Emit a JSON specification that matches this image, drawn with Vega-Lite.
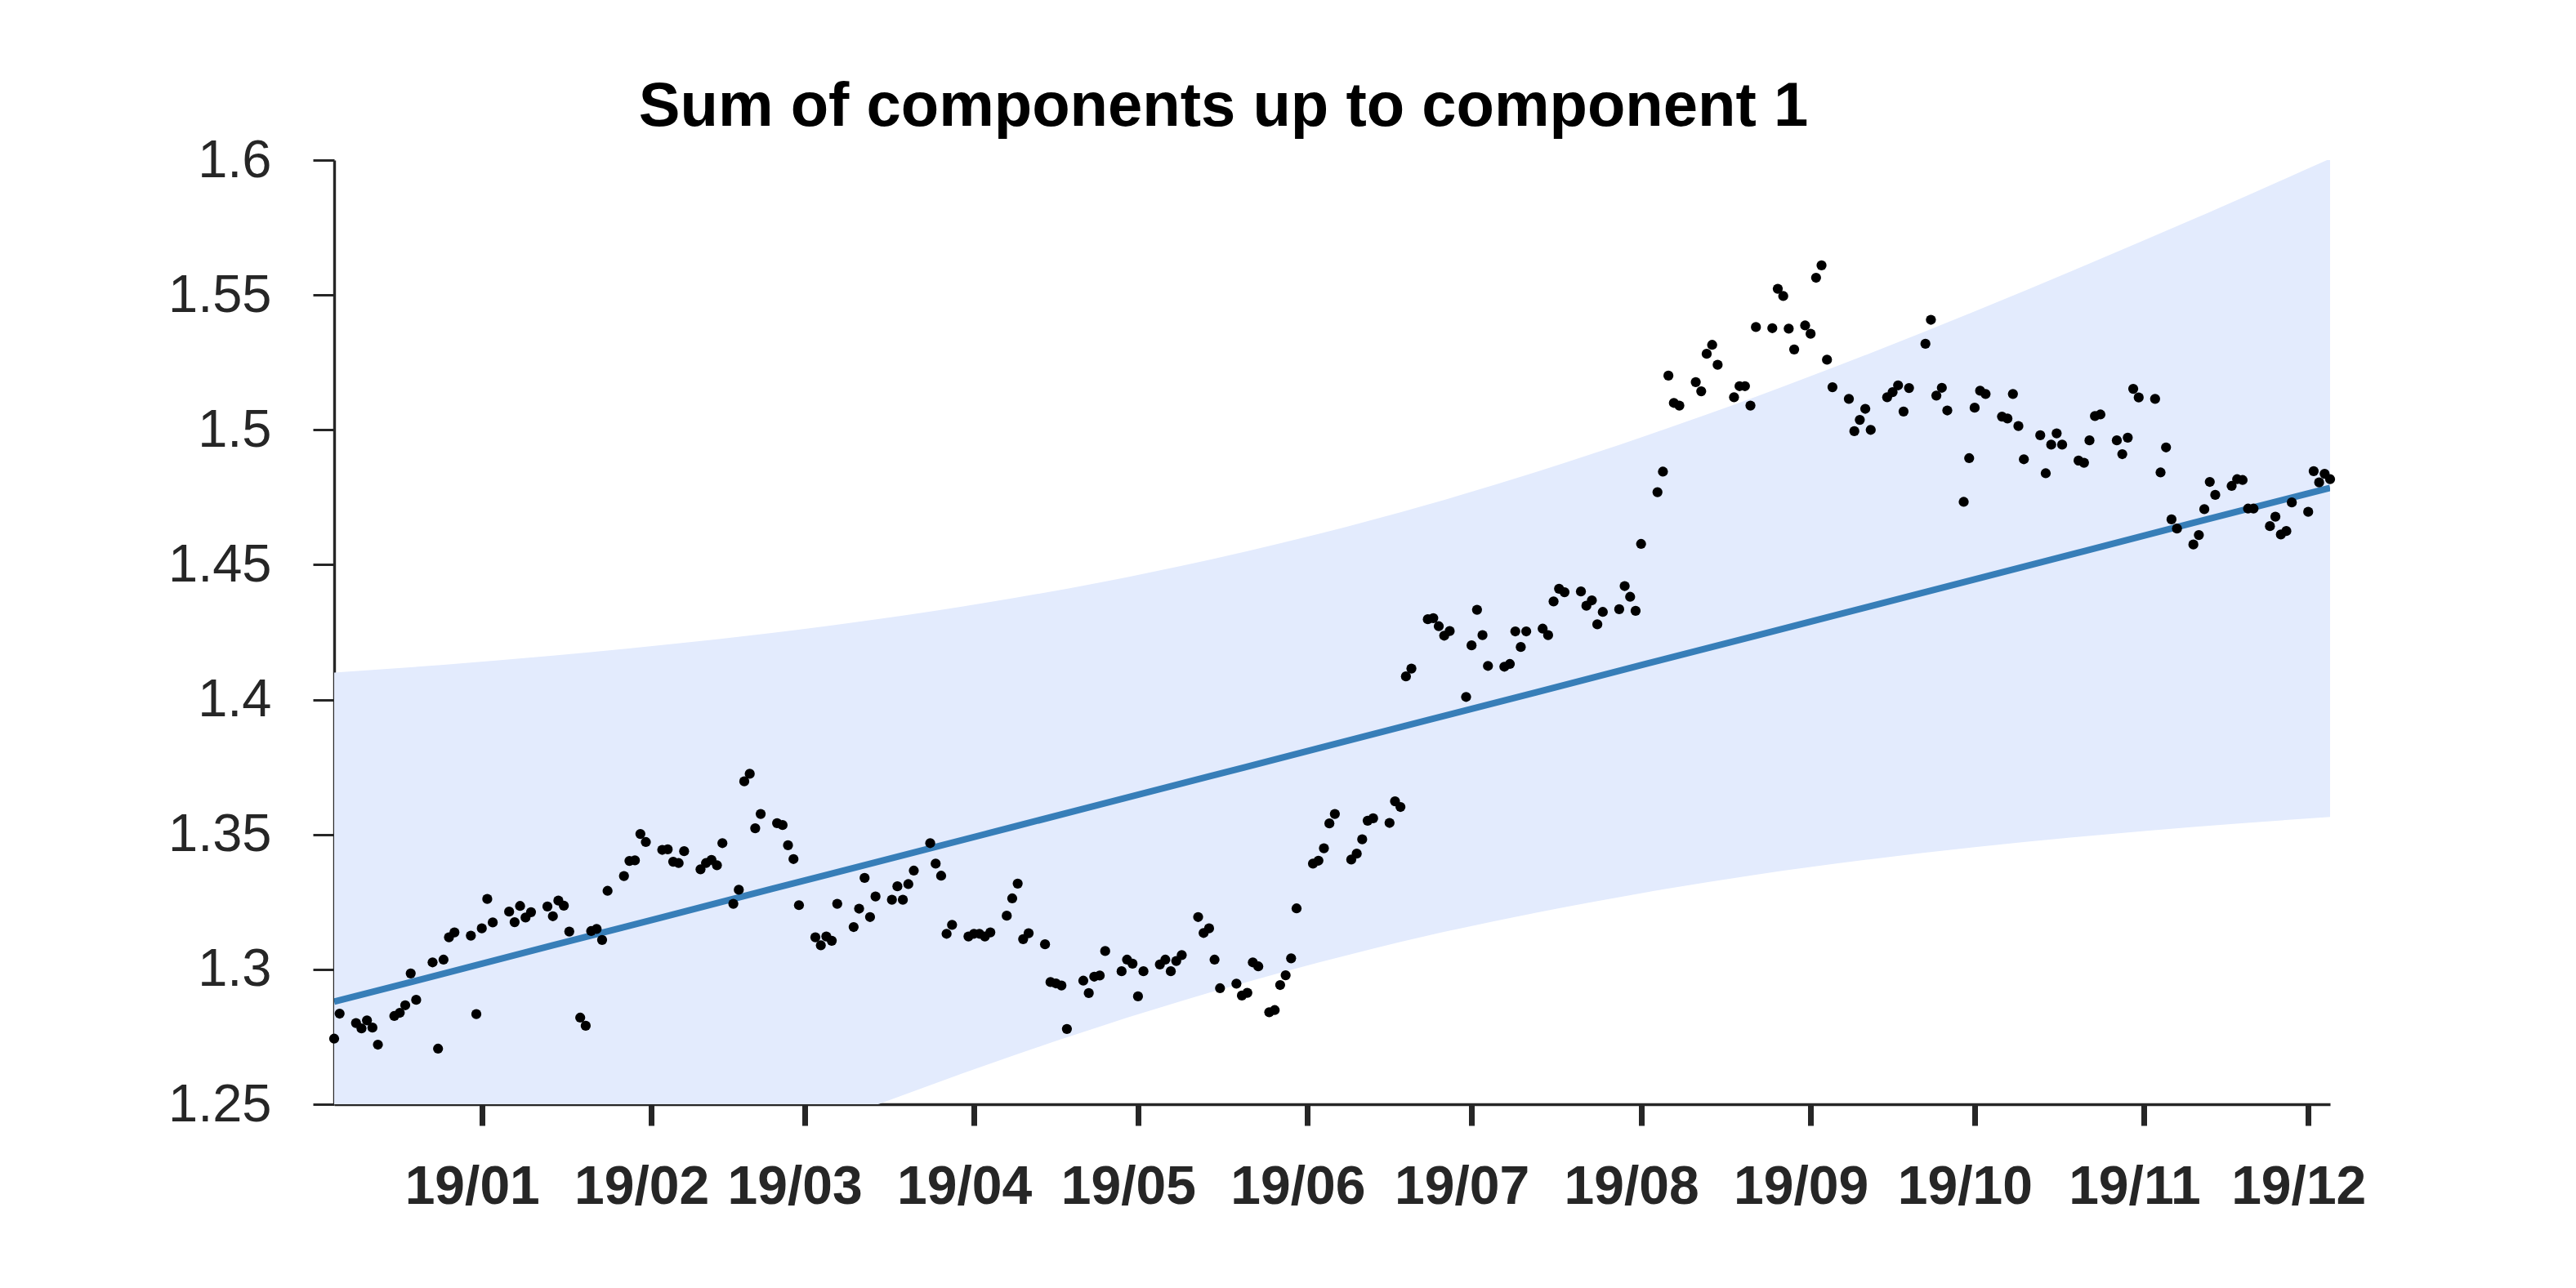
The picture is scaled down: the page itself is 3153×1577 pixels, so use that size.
{
  "$schema": "https://vega.github.io/schema/vega-lite/v6.json",
  "autosize": {"type": "none"},
  "width": 2443,
  "height": 1156,
  "padding": {"left": 409, "top": 196, "right": 301, "bottom": 225},
  "background": "white",
  "config": {"view": {"stroke": null}, "font": "Liberation Sans"},
  "title": {
    "text": "Sum of components up to component 1",
    "font": "Liberation Sans", "fontSize": 76, "fontWeight": "bold", "color": "#000000",
    "anchor": "middle", "frame": "group", "baseline": "alphabetic", "offset": 42, "dx": -133, "dy": 108
  },
  "datasets": {
    "band": [
      {"date": "2018-12-05", "lower": 1.1660, "upper": 1.4100, "fit": 1.2880},
      {"date": "2018-12-25", "lower": 1.1840, "upper": 1.4129, "fit": 1.2984},
      {"date": "2019-01-14", "lower": 1.2015, "upper": 1.4163, "fit": 1.3089},
      {"date": "2019-02-03", "lower": 1.2184, "upper": 1.4202, "fit": 1.3193},
      {"date": "2019-02-23", "lower": 1.2348, "upper": 1.4247, "fit": 1.3298},
      {"date": "2019-03-15", "lower": 1.2504, "upper": 1.4300, "fit": 1.3402},
      {"date": "2019-04-04", "lower": 1.2651, "upper": 1.4362, "fit": 1.3506},
      {"date": "2019-04-24", "lower": 1.2788, "upper": 1.4434, "fit": 1.3611},
      {"date": "2019-05-14", "lower": 1.2913, "upper": 1.4518, "fit": 1.3715},
      {"date": "2019-06-03", "lower": 1.3025, "upper": 1.4614, "fit": 1.3820},
      {"date": "2019-06-23", "lower": 1.3125, "upper": 1.4723, "fit": 1.3924},
      {"date": "2019-07-13", "lower": 1.3211, "upper": 1.4845, "fit": 1.4028},
      {"date": "2019-08-02", "lower": 1.3286, "upper": 1.4979, "fit": 1.4133},
      {"date": "2019-08-22", "lower": 1.3351, "upper": 1.5123, "fit": 1.4237},
      {"date": "2019-09-11", "lower": 1.3406, "upper": 1.5277, "fit": 1.4341},
      {"date": "2019-10-01", "lower": 1.3453, "upper": 1.5439, "fit": 1.4446},
      {"date": "2019-10-21", "lower": 1.3493, "upper": 1.5608, "fit": 1.4550},
      {"date": "2019-11-10", "lower": 1.3528, "upper": 1.5781, "fit": 1.4655},
      {"date": "2019-12-05", "lower": 1.3565, "upper": 1.6005, "fit": 1.4785}
    ],
    "points": [
      {"date": "2018-12-05", "value": 1.2743}, {"date": "2018-12-06", "value": 1.2836},
      {"date": "2018-12-09", "value": 1.2801}, {"date": "2018-12-10", "value": 1.2781},
      {"date": "2018-12-11", "value": 1.2811}, {"date": "2018-12-12", "value": 1.2784},
      {"date": "2018-12-13", "value": 1.2721}, {"date": "2018-12-16", "value": 1.2827},
      {"date": "2018-12-17", "value": 1.2839}, {"date": "2018-12-18", "value": 1.2867},
      {"date": "2018-12-19", "value": 1.2985}, {"date": "2018-12-20", "value": 1.2887},
      {"date": "2018-12-23", "value": 1.3026}, {"date": "2018-12-24", "value": 1.2706},
      {"date": "2018-12-25", "value": 1.3036}, {"date": "2018-12-26", "value": 1.3119},
      {"date": "2018-12-27", "value": 1.3137}, {"date": "2018-12-30", "value": 1.3125},
      {"date": "2018-12-31", "value": 1.2834}, {"date": "2019-01-01", "value": 1.3152},
      {"date": "2019-01-02", "value": 1.3261}, {"date": "2019-01-03", "value": 1.3174},
      {"date": "2019-01-06", "value": 1.3214}, {"date": "2019-01-07", "value": 1.3175},
      {"date": "2019-01-08", "value": 1.3235}, {"date": "2019-01-09", "value": 1.3192},
      {"date": "2019-01-10", "value": 1.3212}, {"date": "2019-01-13", "value": 1.3233},
      {"date": "2019-01-14", "value": 1.3197}, {"date": "2019-01-15", "value": 1.3255},
      {"date": "2019-01-16", "value": 1.3236}, {"date": "2019-01-17", "value": 1.3140},
      {"date": "2019-01-19", "value": 1.2821}, {"date": "2019-01-20", "value": 1.2791},
      {"date": "2019-01-21", "value": 1.3142}, {"date": "2019-01-22", "value": 1.3150},
      {"date": "2019-01-23", "value": 1.3109}, {"date": "2019-01-24", "value": 1.3291},
      {"date": "2019-01-27", "value": 1.3346}, {"date": "2019-01-28", "value": 1.3402},
      {"date": "2019-01-29", "value": 1.3404}, {"date": "2019-01-30", "value": 1.3502},
      {"date": "2019-01-31", "value": 1.3472}, {"date": "2019-02-03", "value": 1.3443},
      {"date": "2019-02-04", "value": 1.3445}, {"date": "2019-02-05", "value": 1.3399},
      {"date": "2019-02-06", "value": 1.3394}, {"date": "2019-02-07", "value": 1.3438},
      {"date": "2019-02-10", "value": 1.3371}, {"date": "2019-02-11", "value": 1.3394},
      {"date": "2019-02-12", "value": 1.3406}, {"date": "2019-02-13", "value": 1.3386},
      {"date": "2019-02-14", "value": 1.3468}, {"date": "2019-02-16", "value": 1.3243},
      {"date": "2019-02-17", "value": 1.3295}, {"date": "2019-02-18", "value": 1.3697},
      {"date": "2019-02-19", "value": 1.3725}, {"date": "2019-02-20", "value": 1.3523},
      {"date": "2019-02-21", "value": 1.3576}, {"date": "2019-02-24", "value": 1.3542},
      {"date": "2019-02-25", "value": 1.3535}, {"date": "2019-02-26", "value": 1.3460},
      {"date": "2019-02-27", "value": 1.3409}, {"date": "2019-02-28", "value": 1.3238},
      {"date": "2019-03-03", "value": 1.3119}, {"date": "2019-03-04", "value": 1.3089},
      {"date": "2019-03-05", "value": 1.3122}, {"date": "2019-03-06", "value": 1.3106},
      {"date": "2019-03-07", "value": 1.3243}, {"date": "2019-03-10", "value": 1.3157},
      {"date": "2019-03-11", "value": 1.3225}, {"date": "2019-03-12", "value": 1.3339},
      {"date": "2019-03-13", "value": 1.3194}, {"date": "2019-03-14", "value": 1.3270},
      {"date": "2019-03-17", "value": 1.3258}, {"date": "2019-03-18", "value": 1.3308},
      {"date": "2019-03-19", "value": 1.3258}, {"date": "2019-03-20", "value": 1.3316},
      {"date": "2019-03-21", "value": 1.3366}, {"date": "2019-03-24", "value": 1.3468},
      {"date": "2019-03-25", "value": 1.3392}, {"date": "2019-03-26", "value": 1.3347},
      {"date": "2019-03-27", "value": 1.3132}, {"date": "2019-03-28", "value": 1.3165},
      {"date": "2019-03-31", "value": 1.3122}, {"date": "2019-04-01", "value": 1.3132},
      {"date": "2019-04-02", "value": 1.3132}, {"date": "2019-04-03", "value": 1.3122},
      {"date": "2019-04-04", "value": 1.3137}, {"date": "2019-04-07", "value": 1.3199},
      {"date": "2019-04-08", "value": 1.3263}, {"date": "2019-04-09", "value": 1.3318},
      {"date": "2019-04-10", "value": 1.3112}, {"date": "2019-04-11", "value": 1.3134},
      {"date": "2019-04-14", "value": 1.3093}, {"date": "2019-04-15", "value": 1.2953},
      {"date": "2019-04-16", "value": 1.2948}, {"date": "2019-04-17", "value": 1.2940},
      {"date": "2019-04-18", "value": 1.2779}, {"date": "2019-04-21", "value": 1.2958},
      {"date": "2019-04-22", "value": 1.2912}, {"date": "2019-04-23", "value": 1.2973},
      {"date": "2019-04-24", "value": 1.2977}, {"date": "2019-04-25", "value": 1.3068},
      {"date": "2019-04-28", "value": 1.2993}, {"date": "2019-04-29", "value": 1.3036},
      {"date": "2019-04-30", "value": 1.3021}, {"date": "2019-05-01", "value": 1.2900},
      {"date": "2019-05-02", "value": 1.2993}, {"date": "2019-05-05", "value": 1.3018},
      {"date": "2019-05-06", "value": 1.3036}, {"date": "2019-05-07", "value": 1.2993},
      {"date": "2019-05-08", "value": 1.3031}, {"date": "2019-05-09", "value": 1.3053},
      {"date": "2019-05-12", "value": 1.3194}, {"date": "2019-05-13", "value": 1.3135},
      {"date": "2019-05-14", "value": 1.3152}, {"date": "2019-05-15", "value": 1.3036},
      {"date": "2019-05-16", "value": 1.2930}, {"date": "2019-05-19", "value": 1.2947},
      {"date": "2019-05-20", "value": 1.2903}, {"date": "2019-05-21", "value": 1.2913},
      {"date": "2019-05-22", "value": 1.3026}, {"date": "2019-05-23", "value": 1.3011},
      {"date": "2019-05-25", "value": 1.2841}, {"date": "2019-05-26", "value": 1.2849},
      {"date": "2019-05-27", "value": 1.2942}, {"date": "2019-05-28", "value": 1.2978},
      {"date": "2019-05-29", "value": 1.3041}, {"date": "2019-05-30", "value": 1.3226},
      {"date": "2019-06-02", "value": 1.3392}, {"date": "2019-06-03", "value": 1.3403},
      {"date": "2019-06-04", "value": 1.3449}, {"date": "2019-06-05", "value": 1.3541},
      {"date": "2019-06-06", "value": 1.3576}, {"date": "2019-06-09", "value": 1.3407},
      {"date": "2019-06-10", "value": 1.3429}, {"date": "2019-06-11", "value": 1.3482},
      {"date": "2019-06-12", "value": 1.3551}, {"date": "2019-06-13", "value": 1.3560},
      {"date": "2019-06-16", "value": 1.3543}, {"date": "2019-06-17", "value": 1.3623},
      {"date": "2019-06-18", "value": 1.3602}, {"date": "2019-06-19", "value": 1.4086},
      {"date": "2019-06-20", "value": 1.4115}, {"date": "2019-06-23", "value": 1.4298},
      {"date": "2019-06-24", "value": 1.4302}, {"date": "2019-06-25", "value": 1.4272},
      {"date": "2019-06-26", "value": 1.4237}, {"date": "2019-06-27", "value": 1.4254},
      {"date": "2019-06-30", "value": 1.4010}, {"date": "2019-07-01", "value": 1.4201},
      {"date": "2019-07-02", "value": 1.4333}, {"date": "2019-07-03", "value": 1.4239},
      {"date": "2019-07-04", "value": 1.4125}, {"date": "2019-07-07", "value": 1.4122},
      {"date": "2019-07-08", "value": 1.4132}, {"date": "2019-07-09", "value": 1.4253},
      {"date": "2019-07-10", "value": 1.4195}, {"date": "2019-07-11", "value": 1.4253},
      {"date": "2019-07-14", "value": 1.4263}, {"date": "2019-07-15", "value": 1.4239},
      {"date": "2019-07-16", "value": 1.4364}, {"date": "2019-07-17", "value": 1.4411},
      {"date": "2019-07-18", "value": 1.4398}, {"date": "2019-07-21", "value": 1.4401},
      {"date": "2019-07-22", "value": 1.4348}, {"date": "2019-07-23", "value": 1.4368},
      {"date": "2019-07-24", "value": 1.4279}, {"date": "2019-07-25", "value": 1.4325},
      {"date": "2019-07-28", "value": 1.4335}, {"date": "2019-07-29", "value": 1.4421},
      {"date": "2019-07-30", "value": 1.4381}, {"date": "2019-07-31", "value": 1.4329},
      {"date": "2019-08-01", "value": 1.4577}, {"date": "2019-08-04", "value": 1.4769},
      {"date": "2019-08-05", "value": 1.4845}, {"date": "2019-08-06", "value": 1.5201},
      {"date": "2019-08-07", "value": 1.5100}, {"date": "2019-08-08", "value": 1.5090},
      {"date": "2019-08-11", "value": 1.5177}, {"date": "2019-08-12", "value": 1.5143},
      {"date": "2019-08-13", "value": 1.5282}, {"date": "2019-08-14", "value": 1.5315},
      {"date": "2019-08-15", "value": 1.5241}, {"date": "2019-08-18", "value": 1.5121},
      {"date": "2019-08-19", "value": 1.5162}, {"date": "2019-08-20", "value": 1.5162},
      {"date": "2019-08-21", "value": 1.5090}, {"date": "2019-08-22", "value": 1.5381},
      {"date": "2019-08-25", "value": 1.5377}, {"date": "2019-08-26", "value": 1.5523},
      {"date": "2019-08-27", "value": 1.5496}, {"date": "2019-08-28", "value": 1.5375},
      {"date": "2019-08-29", "value": 1.5298}, {"date": "2019-08-31", "value": 1.5387},
      {"date": "2019-09-01", "value": 1.5356}, {"date": "2019-09-02", "value": 1.5564},
      {"date": "2019-09-03", "value": 1.5610}, {"date": "2019-09-04", "value": 1.5260},
      {"date": "2019-09-05", "value": 1.5158}, {"date": "2019-09-08", "value": 1.5115},
      {"date": "2019-09-09", "value": 1.4995}, {"date": "2019-09-10", "value": 1.5037},
      {"date": "2019-09-11", "value": 1.5078}, {"date": "2019-09-12", "value": 1.5000},
      {"date": "2019-09-15", "value": 1.5121}, {"date": "2019-09-16", "value": 1.5140},
      {"date": "2019-09-17", "value": 1.5165}, {"date": "2019-09-18", "value": 1.5068},
      {"date": "2019-09-19", "value": 1.5155}, {"date": "2019-09-22", "value": 1.5319},
      {"date": "2019-09-23", "value": 1.5408}, {"date": "2019-09-24", "value": 1.5127},
      {"date": "2019-09-25", "value": 1.5156}, {"date": "2019-09-26", "value": 1.5072},
      {"date": "2019-09-29", "value": 1.4733}, {"date": "2019-09-30", "value": 1.4895},
      {"date": "2019-10-01", "value": 1.5082}, {"date": "2019-10-02", "value": 1.5145},
      {"date": "2019-10-03", "value": 1.5133}, {"date": "2019-10-06", "value": 1.5049},
      {"date": "2019-10-07", "value": 1.5042}, {"date": "2019-10-08", "value": 1.5133},
      {"date": "2019-10-09", "value": 1.5014}, {"date": "2019-10-10", "value": 1.4891},
      {"date": "2019-10-13", "value": 1.4980}, {"date": "2019-10-14", "value": 1.4839},
      {"date": "2019-10-15", "value": 1.4945}, {"date": "2019-10-16", "value": 1.4987},
      {"date": "2019-10-17", "value": 1.4945}, {"date": "2019-10-20", "value": 1.4886},
      {"date": "2019-10-21", "value": 1.4878}, {"date": "2019-10-22", "value": 1.4961},
      {"date": "2019-10-23", "value": 1.5051}, {"date": "2019-10-24", "value": 1.5057},
      {"date": "2019-10-27", "value": 1.4961}, {"date": "2019-10-28", "value": 1.4910},
      {"date": "2019-10-29", "value": 1.4971}, {"date": "2019-10-30", "value": 1.5152},
      {"date": "2019-10-31", "value": 1.5120}, {"date": "2019-11-03", "value": 1.5115},
      {"date": "2019-11-04", "value": 1.4842}, {"date": "2019-11-05", "value": 1.4935},
      {"date": "2019-11-06", "value": 1.4668}, {"date": "2019-11-07", "value": 1.4634},
      {"date": "2019-11-10", "value": 1.4575}, {"date": "2019-11-11", "value": 1.4610},
      {"date": "2019-11-12", "value": 1.4706}, {"date": "2019-11-13", "value": 1.4807},
      {"date": "2019-11-14", "value": 1.4759}, {"date": "2019-11-17", "value": 1.4792},
      {"date": "2019-11-18", "value": 1.4817}, {"date": "2019-11-19", "value": 1.4814},
      {"date": "2019-11-20", "value": 1.4708}, {"date": "2019-11-21", "value": 1.4708},
      {"date": "2019-11-24", "value": 1.4643}, {"date": "2019-11-25", "value": 1.4678},
      {"date": "2019-11-26", "value": 1.4612}, {"date": "2019-11-27", "value": 1.4625},
      {"date": "2019-11-28", "value": 1.4731}, {"date": "2019-12-01", "value": 1.4696},
      {"date": "2019-12-02", "value": 1.4847}, {"date": "2019-12-03", "value": 1.4805},
      {"date": "2019-12-04", "value": 1.4837}, {"date": "2019-12-05", "value": 1.4817}
    ]
  },
  "encoding": {
    "x": {
      "field": "date", "type": "temporal",
      "scale": {"type": "utc", "domain": [{"year": 2018, "month": 12, "date": 5, "utc": true}, {"year": 2019, "month": 12, "date": 5, "utc": true}]},
      "axis": {
        "title": null,
        "values": [
          {"year": 2019, "month": 1, "date": 1, "utc": true},
          {"year": 2019, "month": 2, "date": 1, "utc": true},
          {"year": 2019, "month": 3, "date": 1, "utc": true},
          {"year": 2019, "month": 4, "date": 1, "utc": true},
          {"year": 2019, "month": 5, "date": 1, "utc": true},
          {"year": 2019, "month": 6, "date": 1, "utc": true},
          {"year": 2019, "month": 7, "date": 1, "utc": true},
          {"year": 2019, "month": 8, "date": 1, "utc": true},
          {"year": 2019, "month": 9, "date": 1, "utc": true},
          {"year": 2019, "month": 10, "date": 1, "utc": true},
          {"year": 2019, "month": 11, "date": 1, "utc": true},
          {"year": 2019, "month": 12, "date": 1, "utc": true}
        ],
        "labelExpr": "utcFormat(datum.value, '%y/%m')",
        "grid": false,
        "domainColor": "#262626", "domainWidth": 3.4,
        "tickColor": "#262626", "tickWidth": 7, "tickSize": 26,
        "labelFont": "Liberation Sans", "labelFontSize": 66, "labelFontWeight": "bold",
        "labelColor": "#262626", "labelPadding": 43, "labelOffset": -12, "labelFlush": false, "labelOverlap": false
      }
    }
  },
  "layer": [
    {
      "data": {"name": "band"},
      "mark": {"type": "area", "color": "#e3ebfd", "opacity": 1, "interpolate": "monotone", "clip": true},
      "encoding": {
        "y": {"field": "upper", "type": "quantitative"},
        "y2": {"field": "lower"}
      }
    },
    {
      "data": {"name": "band"},
      "mark": {"type": "line", "color": "#377eb8", "strokeWidth": 8, "clip": true},
      "encoding": {
        "y": {"field": "fit", "type": "quantitative"}
      }
    },
    {
      "data": {"name": "points"},
      "mark": {"type": "circle", "color": "#000000", "opacity": 1, "size": 150},
      "encoding": {
        "y": {
          "field": "value", "type": "quantitative",
          "scale": {"domain": [1.25, 1.6], "zero": false, "nice": false},
          "axis": {
            "title": null,
            "values": [1.25, 1.3, 1.35, 1.4, 1.45, 1.5, 1.55, 1.6],
            "format": "~g",
            "grid": false,
            "domainColor": "#262626", "domainWidth": 3.4,
            "tickColor": "#262626", "tickWidth": 3, "tickSize": 26,
            "labelFont": "Liberation Sans", "labelFontSize": 65, "labelColor": "#262626",
            "labelPadding": 51, "labelFlush": false, "labelOverlap": false
          }
        }
      }
    }
  ],
  "resolve": {"scale": {"y": "shared"}}
}
